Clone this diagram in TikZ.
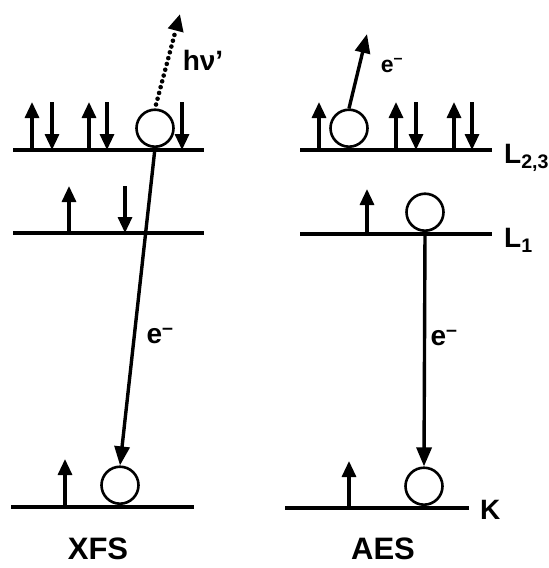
\documentclass[tikz,border=0pt]{standalone}
\usepackage{fontspec}
\setmainfont{Liberation Sans}
\usetikzlibrary{arrows.meta}

\begin{document}
\begin{tikzpicture}[
        x=1pt, y=-1pt,
        font=\bfseries\fontsize{28}{30}\selectfont,
        level/.style={line width=3.8pt},
        spin/.style={
            line width=3.2pt,
            -{Triangle[width=14pt,length=16pt]}
        },
        hole/.style={
            draw,
            circle,
            line width=2.6pt,
            minimum size=37pt,
            inner sep=0pt,
            anchor=south
        },
        trans/.style={
            line width=3.4pt,
            -{Triangle[width=15pt,length=19pt]}
        },
        photon/.style={
            line width=4.6pt,
            line cap=round,
            dash pattern=on 0pt off 6pt,
            -{Triangle[width=15pt,length=17pt]}
        },
        lbl/.style={inner sep=0pt},
        title/.style={inner sep=0pt, font=\bfseries\fontsize{31}{33}\selectfont}
    ]
    \useasboundingbox (0,0) rectangle (549,568);

    % energy levels
    \draw[level] (13,150) -- (204,150);
    \draw[level] (13,233) -- (204,233);
    \draw[level] (11,507) -- (194,507);
    \draw[level] (300,150) -- (492,150);
    \draw[level] (300,234) -- (492,234);
    \draw[level] (285,508) -- (469,508);

    % spins
    \foreach \x in {32,89} \draw[spin] (\x,150) -- (\x,102);
    \foreach \x in {52,107,182} \draw[spin] (\x,102) -- (\x,150);
    \foreach \x in {319,396,454} \draw[spin] (\x,150) -- (\x,102);
    \foreach \x in {416,472} \draw[spin] (\x,102) -- (\x,150);
    \draw[spin] (69,233) -- (69,186);
    \draw[spin] (125,186) -- (125,233);
    \draw[spin] (367,234) -- (367,189);
    \draw[spin] (65,507) -- (65,459);
    \draw[spin] (349,508) -- (349,461);

    % holes
    \node[hole] (xfsVal) at (155,148) {};
    \node[hole] (xfsCore) at (120,505) {};
    \node[hole] (aesVal) at (349,148) {};
    \node[hole] (aesL1) at (425,232) {};
    \node[hole] (aesCore) at (424,506) {};

    \coordinate (photonEnd) at (180,14);
    \coordinate (augerEnd) at (367,34);

    % labels
    \node[lbl] (hnu) at (203,60) {hν'};
    \node[lbl, font=\bfseries\fontsize{23}{25}\selectfont] (eAuger) at (392,66) {e\textsuperscript{--}};
    \node[lbl] (eXfs) at (160,336) {e\textsuperscript{--}};
    \node[lbl] (eAes) at (444,338) {e\textsuperscript{--}};
    \node[lbl, anchor=west] (lblL23) at (504,158) {L\textsubscript{2,3}};
    \node[lbl, anchor=west] (lblL1) at (504,240) {L\textsubscript{1}};
    \node[lbl, anchor=west] (lblK) at (480,510) {K};
    \node[title] (xfs) at (98,549) {XFS};
    \node[title] (aes) at (383,549) {AES};

    \draw[photon, shorten <=4pt] (xfsVal.north) -- (photonEnd);
    \draw[trans] (xfsVal.south) -- (xfsCore.north);
    \draw[trans] (aesVal.north) -- (augerEnd);
    \draw[trans] (aesL1.south) -- (aesCore.north);
\end{tikzpicture}
\end{document}
